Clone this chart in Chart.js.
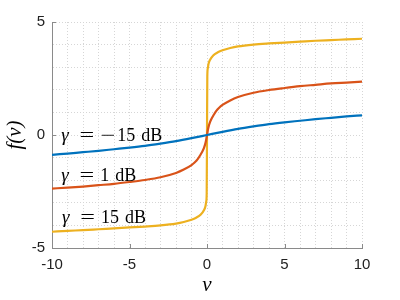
<!DOCTYPE html>
<html>
<head>
<meta charset="utf-8">
<script src="https://cdn.jsdelivr.net/npm/chart.js@4/dist/chart.umd.min.js"></script>
<style>
  html, body { margin: 0; padding: 0; background: #fff; }
  #wrap { width: 400px; height: 300px; position: relative; }
</style>
</head>
<body>
<div id="wrap"><canvas id="c"></canvas></div>
<script>
// ---- data ----
const blueV = [-10,-9,-8,-7,-6,-5,-4,-3,-2,-1,0,1,2,3,4,5,6,7,8,9,10];
const blueF = [-0.88,-0.82,-0.76,-0.70,-0.63,-0.56,-0.48,-0.38,-0.27,-0.14,0,0.14,0.27,0.38,0.48,0.56,0.63,0.70,0.76,0.82,0.87];

const orangeV = [-10,-9,-8,-7,-6,-5,-4,-3,-2,-1.5,-1,-0.8,-0.6,-0.4,-0.3,-0.2,-0.1,-0.05,0,0.05,0.1,0.2,0.3,0.4,0.6,0.8,1,1.5,2,3,4,5,6,7,8,9,10];
const orangeF = [-2.37,-2.33,-2.28,-2.22,-2.16,-2.08,-1.99,-1.87,-1.68,-1.53,-1.33,-1.22,-1.07,-0.85,-0.73,-0.58,-0.36,-0.2,0,0.2,0.36,0.58,0.73,0.85,1.07,1.22,1.33,1.53,1.68,1.87,1.99,2.08,2.16,2.22,2.28,2.32,2.36];

const yellowV = [-10,-9,-8,-7,-6,-5,-4,-3,-2,-1.5,-1,-0.7,-0.4,-0.2,-0.1,-0.05,-0.02,0,0.02,0.05,0.1,0.2,0.4,0.7,1,1.5,2,3,4,5,6,7,8,9,10];
const yellowF = [-4.28,-4.24,-4.21,-4.17,-4.13,-4.09,-4.05,-4.0,-3.92,-3.85,-3.75,-3.66,-3.52,-3.33,-3.15,-2.95,-2.6,0,2.6,2.95,3.15,3.33,3.52,3.66,3.75,3.85,3.92,4.0,4.05,4.09,4.13,4.17,4.2,4.23,4.26];

const seriesNames = ['γ = −15 dB', 'γ = 1 dB', 'γ = 15 dB'];
const labelValues = ['−15', '1', '15'];
const labelV = [-9.4, -9.4, -9.35];
const labelF = [-0.27, -2.02, -3.9];

const xTickLabels = [-10, -5, 0, 5, 10];
const yTickLabels = [-5, 0, 5];

const xTitle = 'v';
const yTitle = 'f(v)';

// ---- build ----
function pts(vs, fs) { return vs.map((v, i) => ({ x: v, y: fs[i] })); }

const serifFont = '"Liberation Serif", "DejaVu Serif", serif';

const curveLabels = {
  id: 'curveLabels',
  afterDatasetsDraw(chart) {
    const ctx = chart.ctx;
    const xs = chart.scales.x, ys = chart.scales.y;
    ctx.save();
    ctx.fillStyle = '#000';
    ctx.textBaseline = 'alphabetic';
    for (let i = 0; i < labelV.length; i++) {
      const x0 = xs.getPixelForValue(labelV[i]);
      const y0 = ys.getPixelForValue(labelF[i]);
      ctx.font = 'italic 19px ' + serifFont;
      ctx.textAlign = 'left';
      ctx.fillText('γ', x0, y0);
      ctx.font = '18px ' + serifFont;
      ctx.textAlign = 'center';
      ctx.save();
      ctx.translate(x0 + 25.5, y0);
      ctx.scale(1.45, 1);
      ctx.fillText('=', 0, 0);
      ctx.restore();
      let xn = x0 + 39;
      let val = labelValues[i];
      if (val.startsWith('−')) {
        ctx.save();
        ctx.translate(xn + 7.5, y0);
        ctx.scale(1.45, 1);
        ctx.fillText('−', 0, 0);
        ctx.restore();
        xn += 17;
        val = val.slice(1);
      }
      ctx.textAlign = 'left';
      ctx.fillText(val, xn, y0);
      const w = ctx.measureText(val).width;
      ctx.fillText('dB', xn + w + 6, y0);
    }
    ctx.restore();
  }
};

const tickMarks = {
  id: 'tickMarks',
  afterDatasetsDraw(chart) {
    const ctx = chart.ctx;
    const xs = chart.scales.x, ys = chart.scales.y;
    const a = chart.chartArea;
    ctx.save();
    ctx.strokeStyle = '#8a8a8a';
    ctx.lineWidth = 1;
    ctx.beginPath();
    xTickLabels.forEach(v => {
      const px = Math.round(xs.getPixelForValue(v)) + 0.5;
      ctx.moveTo(px, a.bottom);
      ctx.lineTo(px, a.bottom - 4);
    });
    yTickLabels.forEach(v => {
      const py = Math.round(ys.getPixelForValue(v)) + 0.5;
      ctx.moveTo(a.left, py);
      ctx.lineTo(a.left + 4, py);
    });
    ctx.stroke();
    ctx.restore();
  }
};

const gridColor = '#d6d6d6';
const tickFont = { family: '"Liberation Sans", Arial, sans-serif', size: 15 };

new Chart(document.getElementById('c'), {
  type: 'line',
  data: {
    datasets: [
      { label: seriesNames[0], data: pts(blueV, blueF), borderColor: '#0072BD', borderWidth: 2.2, pointRadius: 0, cubicInterpolationMode: 'monotone', fill: false },
      { label: seriesNames[1], data: pts(orangeV, orangeF), borderColor: '#D95319', borderWidth: 2.2, pointRadius: 0, cubicInterpolationMode: 'monotone', fill: false },
      { label: seriesNames[2], data: pts(yellowV, yellowF), borderColor: '#EDB120', borderWidth: 2.2, pointRadius: 0, cubicInterpolationMode: 'monotone', fill: false }
    ]
  },
  options: {
    responsive: true,
    maintainAspectRatio: false,
    animation: false,
    events: [],
    layout: { padding: { left: 0, right: 38, top: 22, bottom: 0 } },
    plugins: { legend: { display: false }, tooltip: { enabled: false } },
    scales: {
      x: {
        type: 'linear',
        min: -10, max: 10,
        afterFit(s) { s.height = 52; },
        ticks: {
          stepSize: 1,
          autoSkip: false,
          maxRotation: 0,
          padding: 8,
          color: '#222',
          font: tickFont,
          callback: (v) => xTickLabels.includes(v) ? String(v) : ''
        },
        grid: { color: gridColor, lineWidth: 1, drawTicks: false, tickLength: 0 },
        border: { display: true, color: '#8a8a8a', width: 1, dash: [1, 2] },
        title: { display: true, text: xTitle, color: '#000', font: { family: serifFont, size: 21, style: 'italic' }, padding: { top: 0, bottom: 2 } }
      },
      y: {
        type: 'linear',
        min: -5, max: 5,
        afterFit(s) { s.width = 52; },
        ticks: {
          stepSize: 1,
          autoSkip: false,
          padding: 7,
          color: '#222',
          font: tickFont,
          callback: (v) => yTickLabels.includes(v) ? String(v) : ''
        },
        grid: { color: gridColor, lineWidth: 1, drawTicks: false, tickLength: 0 },
        border: { display: true, color: '#8a8a8a', width: 1, dash: [1, 2] },
        title: { display: true, text: yTitle, color: '#000', font: { family: serifFont, size: 21, style: 'italic' }, padding: { top: 3, bottom: 0 } }
      }
    }
  },
  plugins: [tickMarks, curveLabels]
});
</script>
</body>
</html>
